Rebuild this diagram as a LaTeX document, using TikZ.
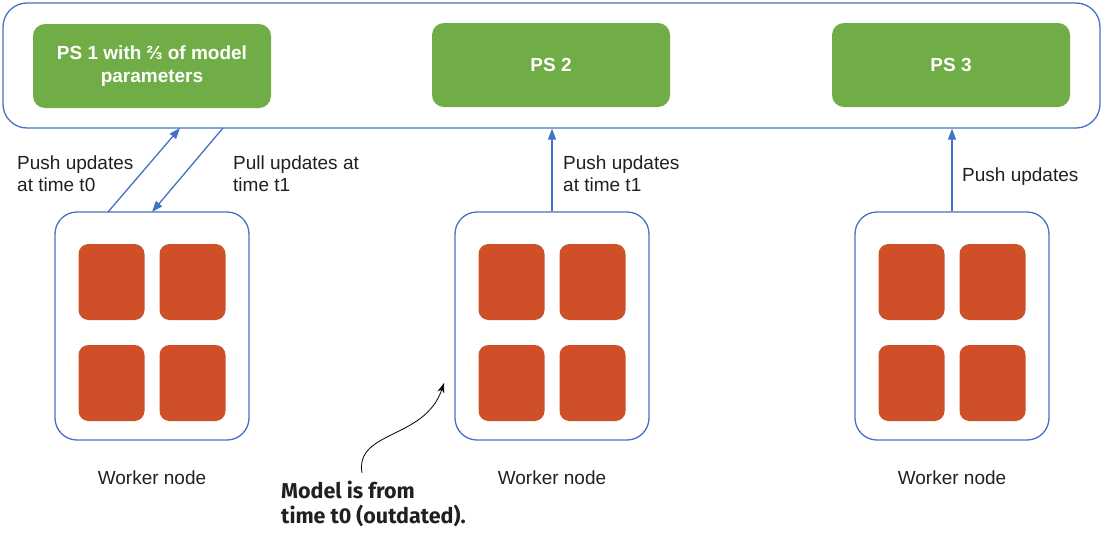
\documentclass[tikz,border=0pt]{standalone}
\usepackage{fontspec}
\setmainfont{Liberation Sans}
\newfontfamily\annfont{Fira Sans}
\usetikzlibrary{arrows.meta}
\definecolor{psgreen}{HTML}{70AD47}
\definecolor{linkblue}{HTML}{4472C4}
\definecolor{chipred}{HTML}{CF4F29}
\definecolor{txt}{HTML}{231F20}
\tikzset{
  outerbox/.style={draw=linkblue, line width=1.3pt, rounded corners=24pt, minimum width=1097pt, minimum height=125pt, inner sep=0pt},
  psbox/.style={fill=psgreen, rounded corners=12pt, minimum width=238pt, minimum height=84pt, text=white, font=\fontsize{19}{23}\selectfont\bfseries, align=center, inner sep=0pt},
  workerbox/.style={draw=linkblue, line width=1.3pt, rounded corners=22pt, minimum width=194pt, minimum height=228pt, inner sep=0pt},
  chip/.style={fill=chipred, rounded corners=10pt, minimum width=66pt, minimum height=76pt, inner sep=0pt},
  lbl/.style={font=\fontsize{19}{22}\selectfont, text=txt, align=left, inner sep=0pt},
  link/.style={draw=linkblue, line width=1.3pt, -{Triangle[length=11pt,width=8pt]}},
}
\begin{document}
\begin{tikzpicture}[x=1pt,y=-1pt]
\useasboundingbox (0,0) rectangle (1103,533);
\node[outerbox] (outer) at (551.5,65.5) {};
\node[psbox] (ps1) at (152,66) {PS 1 with ⅔ of model\\parameters};
\node[psbox] (ps2) at (551,65) {PS 2};
\node[psbox] (ps3) at (951,65) {PS 3};
\foreach \n/\cx in {w1/152, w2/552, w3/952}{
  \node[workerbox] (\n) at (\cx,326) {};
  \node[chip] at (\cx-40.5,282) {};
  \node[chip] at (\cx+40.5,282) {};
  \node[chip] at (\cx-40.5,383) {};
  \node[chip] at (\cx+40.5,383) {};
  \node[lbl, anchor=center] at (\cx,478) {Worker node};
}
\coordinate (a1s) at (108,212);
\coordinate (a1e) at (180,128);
\coordinate (a2s) at (223,128);
\coordinate (a2e) at (152,212);
\draw[link] (a1s) -- (a1e);
\draw[link] (a2s) -- (a2e);
\draw[link] (w2.north) -- (w2.north |- outer.south);
\draw[link] (w3.north) -- (w3.north |- outer.south);
\node[lbl, anchor=north west] (l1) at (17,156) {Push updates\\at time t0};
\node[lbl, anchor=north west] (l2) at (233,156) {Pull updates at\\time t1};
\node[lbl, anchor=north west] (l3) at (563,156) {Push updates\\at time t1};
\node[lbl, anchor=north west] (l4) at (962,168) {Push updates};
\node[font=\annfont\fontsize{21.5}{25}\selectfont\bfseries, text=txt, align=left, anchor=north west, inner sep=0pt] (ann) at (281,481) {Model is from\\time t0 (outdated).};
\coordinate (annend) at (444,383);
\draw[black, line width=0.8pt, -{Stealth[length=10pt,width=7pt]}] (362,473) .. controls (355,430) and (425,440) .. (annend);
\end{tikzpicture}
\end{document}
